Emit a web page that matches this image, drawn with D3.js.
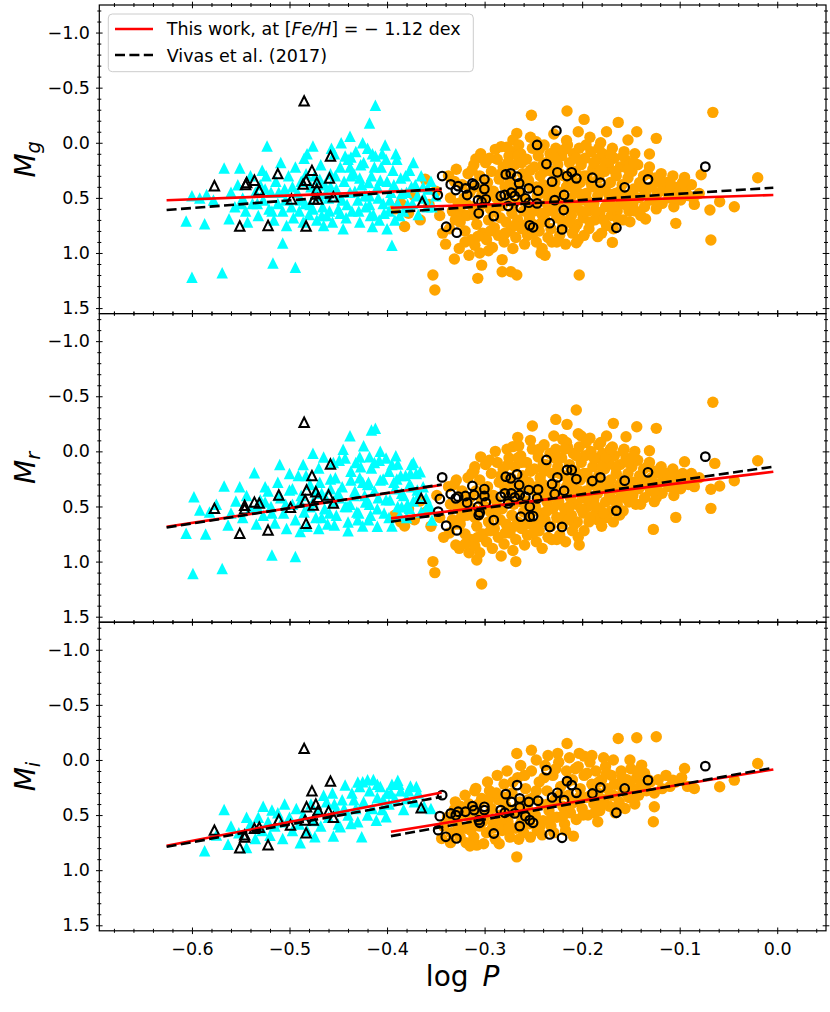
<!DOCTYPE html>
<html>
<head>
<meta charset="utf-8">
<title>RR Lyrae PL relations in g, r, i</title>
<script src="https://cdn.jsdelivr.net/npm/d3@7"></script>
<style>
  body { margin: 0; background: #fff; }
  text { font-family: "DejaVu Sans", sans-serif; }
</style>
</head>
<body>
<script>
// ---- axis ticks ----
var xMajor = [-0.6, -0.5, -0.4, -0.3, -0.2, -0.1, 0.0];
var xMinor = [-0.68, -0.66, -0.64, -0.62, -0.58, -0.56, -0.54, -0.52, -0.48, -0.46, -0.44, -0.42,
              -0.38, -0.36, -0.34, -0.32, -0.28, -0.26, -0.24, -0.22, -0.18, -0.16, -0.14, -0.12,
              -0.08, -0.06, -0.04, -0.02, 0.02, 0.04];
var yMajor = [-1.0, -0.5, 0.0, 0.5, 1.0, 1.5];
var yMinor = [-1.2, -1.1, -0.9, -0.8, -0.7, -0.6, -0.4, -0.3, -0.2, -0.1, 0.1, 0.2, 0.3, 0.4,
              0.6, 0.7, 0.8, 0.9, 1.1, 1.2, 1.3, 1.4];
var xDomain = [-0.695, 0.05];
var yDomain = [-1.25, 1.55];
var bands = ["g", "r", "i"];

// ---- fitted relations: end points in log P and magnitudes per band (g, r, i) ----
var fitRangeRRc = [-0.626, -0.344];
var fitRangeRRab = [-0.396, -0.004];
var thisWorkRRc = [[0.522, 0.425], [0.684, 0.305], [0.779, 0.295]];
var vivasRRc = [[0.610, 0.415], [0.690, 0.300], [0.788, 0.334]];
var thisWorkRRab = [[0.590, 0.474], [0.608, 0.185], [0.652, 0.086]];
var vivasRRab = [[0.631, 0.408], [0.638, 0.139], [0.691, 0.071]];

// ---- RRc stars (cyan triangles): [log P, M] ----
var rrcG = [[-0.600,1.22],[-0.569,1.18],[-0.517,1.09],[-0.494,1.13],[-0.507,0.91],[-0.606,0.71],[-0.587,0.735],
  [-0.562,0.69],[-0.543,0.72],[-0.600,0.48],[-0.592,0.50],[-0.585,0.47],[-0.578,0.52],[-0.567,0.23],[-0.551,0.23],
  [-0.528,0.25],[-0.523,0.03],[-0.476,0.03],[-0.485,0.14],[-0.438,-0.06],[-0.418,-0.18],[-0.412,-0.34],[-0.395,0.93],
  [-0.400,0.78],[-0.390,0.15],[-0.560,0.45],[-0.556,0.58],[-0.553,0.38],[-0.548,0.50],[-0.545,0.62],[-0.540,0.30],
  [-0.538,0.55],[-0.535,0.45],[-0.532,0.66],[-0.530,0.38],[-0.527,0.52],[-0.524,0.30],[-0.521,0.60],[-0.519,0.45],
  [-0.516,0.70],[-0.514,0.35],[-0.512,0.55],[-0.509,0.18],[-0.507,0.62],[-0.505,0.42],[-0.503,0.75],[-0.501,0.30],
  [-0.498,0.58],[-0.496,0.68],[-0.494,0.22],[-0.492,0.45],[-0.490,0.62],[-0.488,0.35],[-0.486,0.72],[-0.484,0.55],
  [-0.482,0.10],[-0.480,0.65],[-0.478,0.40],[-0.476,0.60],[-0.474,0.30],[-0.472,0.70],[-0.470,0.48],[-0.468,0.20],
  [-0.466,0.58],[-0.464,0.38],[-0.462,0.66],[-0.460,0.50],[-0.458,0.28],[-0.456,0.72],[-0.454,0.10],[-0.452,0.42],
  [-0.450,0.60],[-0.448,0.22],[-0.446,0.52],[-0.444,0.35],[-0.442,0.68],[-0.440,0.15],[-0.438,0.45],[-0.436,0.62],
  [-0.434,0.28],[-0.432,0.08],[-0.430,0.52],[-0.428,0.72],[-0.426,0.38],[-0.424,0.18],[-0.422,0.58],[-0.420,0.05],
  [-0.418,0.48],[-0.416,0.30],[-0.414,0.65],[-0.412,0.12],[-0.410,0.40],[-0.408,0.70],[-0.406,0.22],[-0.404,0.55],
  [-0.402,0.02],[-0.400,0.35],[-0.398,0.62],[-0.396,0.45],[-0.394,0.25],[-0.392,0.70],[-0.389,0.55],[-0.386,0.32],
  [-0.383,0.62],[-0.380,0.45],[-0.377,0.25],[-0.374,0.55],[-0.371,0.38],[-0.368,0.65],[-0.365,0.30],[-0.362,0.50],
  [-0.358,0.42],[-0.354,0.58],[-0.350,0.48],[-0.457,0.05],[-0.447,0.00],[-0.437,0.13],[-0.425,0.00],[-0.415,0.10],
  [-0.405,0.10],[-0.445,0.78],[-0.415,0.76],[-0.465,0.75],
  [-0.469,0.33],[-0.463,0.46],[-0.459,0.62],[-0.453,0.30],[-0.449,0.48],[-0.443,0.12],[-0.441,0.56],[-0.437,0.30],
  [-0.433,0.44],[-0.429,0.62],[-0.427,0.20],[-0.423,0.48],[-0.419,0.36],[-0.417,0.66],[-0.413,0.22],[-0.409,0.50],
  [-0.407,0.34],[-0.403,0.64],[-0.401,0.15],[-0.397,0.52],[-0.393,0.38],[-0.391,0.10],[-0.387,0.66],[-0.385,0.46],
  [-0.381,0.30],[-0.379,0.56],[-0.375,0.40],[-0.373,0.18],[-0.369,0.48],[-0.363,0.40],[-0.359,0.58],[-0.355,0.35],
  [-0.489,0.52],[-0.483,0.28],[-0.479,0.56],[-0.473,0.44],[-0.467,0.66],[-0.497,0.40],[-0.504,0.52],[-0.511,0.45],
  [-0.518,0.62],[-0.525,0.42],[-0.533,0.55],[-0.550,0.55],[-0.428,0.32],[-0.418,0.56],[-0.438,0.22],[-0.448,0.64],
  [-0.458,0.40]];
var rrcR = [[-0.599,1.107],[-0.569,1.062],[-0.518,0.94],[-0.494,0.955],[-0.606,0.744],[-0.586,0.75],[-0.563,0.668],
  [-0.598,0.411],[-0.592,0.532],[-0.567,0.314],[-0.551,0.32],[-0.536,0.193],[-0.525,0.32],[-0.476,0.018],[-0.438,-0.142],
  [-0.416,-0.194],[-0.412,-0.209],[-0.389,0.115],[-0.376,0.199],[-0.366,0.184],[-0.395,0.678],[-0.425,0.678],[-0.454,0.668],
  [-0.489,0.728],[-0.385,0.502],[-0.377,0.517],[-0.354,0.623],[-0.418,0.048],[-0.582,0.55],[-0.575,0.48],[-0.560,0.56],
  [-0.555,0.45],[-0.548,0.60],[-0.544,0.40],[-0.540,0.52],[-0.534,0.66],[-0.530,0.44],[-0.527,0.58],[-0.522,0.36],
  [-0.519,0.50],[-0.515,0.65],[-0.512,0.28],[-0.509,0.42],[-0.506,0.56],[-0.503,0.70],[-0.500,0.35],[-0.497,0.48],
  [-0.494,0.62],[-0.491,0.22],[-0.488,0.40],[-0.485,0.55],[-0.482,0.68],[-0.479,0.30],[-0.476,0.46],[-0.473,0.60],
  [-0.470,0.15],[-0.467,0.38],[-0.464,0.52],[-0.461,0.66],[-0.458,0.25],[-0.455,0.45],[-0.452,0.58],[-0.449,0.08],
  [-0.446,0.32],[-0.443,0.50],[-0.440,0.64],[-0.437,0.18],[-0.434,0.40],[-0.431,0.55],[-0.428,0.05],[-0.425,0.28],
  [-0.422,0.46],[-0.419,0.62],[-0.416,0.15],[-0.413,0.36],[-0.410,0.52],[-0.407,0.00],[-0.404,0.25],[-0.401,0.44],
  [-0.398,0.60],[-0.395,0.12],[-0.392,0.34],[-0.389,0.50],[-0.386,0.22],[-0.383,0.40],[-0.380,0.60],[-0.377,0.30],
  [-0.373,0.45],[-0.369,0.35],[-0.365,0.55],[-0.360,0.42],[-0.356,0.50],[-0.465,0.05],[-0.455,0.10],[-0.445,-0.02],
  [-0.432,0.10],[-0.424,-0.05],[-0.408,0.08],[-0.398,0.18],[-0.470,0.70],[-0.440,0.72],[-0.410,0.68],[-0.510,0.12],
  [-0.500,0.20],[-0.486,0.12],[-0.430,0.62],[-0.420,0.30],[-0.450,0.38],[-0.480,0.50],[-0.390,0.25],[-0.375,0.12],
  [-0.370,0.20],
  [-0.469,0.28],[-0.463,0.42],[-0.459,0.56],[-0.453,0.24],[-0.449,0.42],[-0.443,0.06],[-0.441,0.50],[-0.437,0.26],
  [-0.433,0.36],[-0.429,0.56],[-0.427,0.14],[-0.423,0.40],[-0.419,0.28],[-0.417,0.58],[-0.413,0.10],[-0.409,0.42],
  [-0.407,0.26],[-0.403,0.56],[-0.401,0.06],[-0.397,0.44],[-0.393,0.28],[-0.391,0.04],[-0.387,0.58],[-0.385,0.38],
  [-0.381,0.22],[-0.379,0.48],[-0.375,0.32],[-0.373,0.10],[-0.369,0.42],[-0.363,0.32],[-0.359,0.50],[-0.489,0.46],
  [-0.483,0.22],[-0.479,0.50],[-0.473,0.36],[-0.467,0.60],[-0.497,0.34],[-0.504,0.48],[-0.511,0.40],[-0.518,0.56],
  [-0.525,0.46],[-0.533,0.50],[-0.428,0.24],[-0.418,0.48],[-0.438,0.48],[-0.458,0.34]];
var rrcI = [[-0.587,0.824],[-0.567,0.449],[-0.563,0.764],[-0.544,0.52],[-0.544,0.794],[-0.527,0.419],[-0.518,0.455],
  [-0.505,0.40],[-0.489,0.75],[-0.474,0.697],[-0.455,0.69],[-0.426,0.697],[-0.465,0.32],[-0.443,0.228],[-0.425,0.198],
  [-0.414,0.177],[-0.389,0.183],[-0.376,0.237],[-0.355,0.44],[-0.401,0.516],[-0.535,0.712],[-0.520,0.682],[-0.507,0.712],
  [-0.437,0.576],[-0.448,0.606],[-0.411,0.546],[-0.575,0.68],[-0.560,0.60],[-0.552,0.66],[-0.540,0.58],[-0.532,0.52],
  [-0.528,0.64],[-0.522,0.56],[-0.515,0.60],[-0.512,0.48],[-0.508,0.56],[-0.500,0.52],[-0.497,0.64],[-0.493,0.44],
  [-0.490,0.58],[-0.486,0.50],[-0.482,0.64],[-0.478,0.40],[-0.476,0.55],[-0.470,0.46],[-0.468,0.60],[-0.462,0.38],
  [-0.460,0.52],[-0.456,0.30],[-0.452,0.45],[-0.450,0.58],[-0.446,0.36],[-0.440,0.50],[-0.436,0.30],[-0.432,0.44],
  [-0.430,0.56],[-0.428,0.24],[-0.424,0.38],[-0.420,0.50],[-0.418,0.28],[-0.415,0.44],[-0.410,0.34],[-0.407,0.24],
  [-0.405,0.45],[-0.400,0.30],[-0.398,0.40],[-0.395,0.22],[-0.392,0.35],[-0.386,0.28],[-0.383,0.45],[-0.380,0.35],
  [-0.372,0.38],[-0.368,0.30],[-0.362,0.42],[-0.430,0.20],[-0.420,0.18],
  [-0.410,0.22],[-0.404,0.36],[-0.396,0.30],[-0.388,0.22],[-0.378,0.28],[-0.370,0.24],[-0.434,0.36],[-0.444,0.44],
  [-0.454,0.40]];

// ---- RRab stars (orange circles): [log P, M] ----
var rrabG = [[-0.382,0.76],[-0.353,1.20],[-0.351,1.336],[-0.331,1.055],[-0.309,0.147],[-0.307,1.23],[-0.303,1.11],
  [-0.296,0.98],[-0.282,1.06],[-0.282,1.17],[-0.273,1.17],[-0.267,1.20],[-0.252,-0.25],[-0.247,-0.01],[-0.267,-0.085],
  [-0.271,-0.025],[-0.283,0.035],[-0.271,0.08],[-0.242,1.00],[-0.238,1.02],[-0.2155,-0.288],[-0.198,-0.212],[-0.203,1.20],
  [-0.175,-0.10],[-0.163,-0.185],[-0.144,-0.10],[-0.153,-0.025],[-0.124,-0.04],[-0.131,0.102],[-0.095,0.314],[-0.078,0.29],
  [-0.066,-0.276],[-0.020,0.317],[-0.044,0.58],[-0.059,0.535],[-0.069,0.61],[-0.068,0.882],[-0.085,0.559],[-0.104,0.731],
  [-0.135,0.692],[-0.151,0.716],[-0.169,0.904],[-0.184,0.852],[-0.206,0.907],
  [-0.392,0.60],[-0.386,0.55],[-0.378,0.64],[-0.372,0.48],[-0.366,0.70],[-0.361,0.33],[-0.357,0.56],[-0.350,0.44],
  [-0.346,0.66],[-0.343,0.82],[-0.340,0.92],[-0.337,0.30],[-0.335,0.50],[-0.333,0.62],[-0.336,0.78],[-0.329,0.24],
  [-0.327,0.55],[-0.330,0.70],[-0.326,0.96],[-0.323,0.38],[-0.321,0.50],[-0.320,0.80],[-0.324,0.64],[-0.317,0.28],
  [-0.315,0.45],[-0.318,0.66],[-0.314,0.88],[-0.316,1.02],[-0.311,0.20],[-0.309,0.40],[-0.312,0.58],[-0.308,0.74],
  [-0.310,0.93],[-0.305,0.30],[-0.303,0.48],[-0.306,0.62],[-0.302,0.82],[-0.304,0.10],[-0.299,0.18],[-0.297,0.36],
  [-0.300,0.55],[-0.296,0.70],[-0.298,0.88],[-0.293,0.26],[-0.291,0.44],[-0.294,0.60],[-0.290,0.77],[-0.292,0.95],
  [-0.289,0.06],[-0.287,0.15],[-0.285,0.33],[-0.288,0.50],[-0.284,0.68],[-0.286,0.84],[-0.281,0.22],[-0.279,0.40],
  [-0.282,0.57],[-0.278,0.72],[-0.280,0.90],[-0.277,0.04],[-0.275,0.12],[-0.273,0.30],[-0.276,0.48],[-0.272,0.64],
  [-0.274,0.80],[-0.271,0.96],[-0.269,0.20],[-0.267,0.38],[-0.270,0.55],[-0.266,0.70],[-0.268,0.86],[-0.265,0.02],
  [-0.263,0.10],[-0.261,0.28],[-0.264,0.45],[-0.260,0.62],[-0.262,0.78],[-0.259,0.92],[-0.257,0.15],[-0.255,0.34],
  [-0.258,0.52],[-0.254,0.68],[-0.256,0.84],[-0.253,-0.05],[-0.251,0.05],[-0.249,0.22],[-0.252,0.40],[-0.248,0.58],
  [-0.250,0.74],[-0.247,0.90],[-0.245,0.12],[-0.243,0.30],[-0.246,0.48],[-0.242,0.64],[-0.244,0.80],[-0.241,0.96],
  [-0.239,0.02],[-0.237,0.18],[-0.240,0.38],[-0.236,0.55],[-0.238,0.70],[-0.235,0.86],[-0.233,0.10],[-0.231,0.26],
  [-0.234,0.44],[-0.230,0.62],[-0.232,0.78],[-0.229,-0.08],[-0.227,0.05],[-0.225,0.20],[-0.228,0.36],[-0.224,0.52],
  [-0.226,0.68],[-0.223,0.84],[-0.221,0.12],[-0.219,0.30],[-0.222,0.46],[-0.218,0.60],[-0.220,0.76],[-0.217,0.92],
  [-0.216,-0.02],[-0.215,0.02],[-0.213,0.18],[-0.214,0.34],[-0.212,0.50],[-0.211,0.66],[-0.210,0.82],[-0.209,0.10],
  [-0.207,0.26],[-0.208,0.42],[-0.206,0.58],[-0.205,0.74],[-0.204,-0.10],[-0.203,0.05],[-0.201,0.20],[-0.202,0.36],
  [-0.200,0.52],[-0.199,0.68],[-0.198,0.84],[-0.197,0.14],[-0.195,0.30],[-0.196,0.46],[-0.194,0.62],[-0.193,0.78],
  [-0.192,-0.05],[-0.191,0.08],[-0.189,0.24],[-0.190,0.40],[-0.188,0.55],[-0.187,0.70],[-0.185,0.15],[-0.183,0.32],
  [-0.184,0.48],[-0.182,0.64],[-0.181,0.00],[-0.179,0.10],[-0.177,0.26],[-0.178,0.42],[-0.176,0.58],[-0.175,0.75],
  [-0.173,0.20],[-0.171,0.36],[-0.172,0.52],[-0.170,0.66],[-0.169,0.05],[-0.167,0.14],[-0.165,0.30],[-0.166,0.46],
  [-0.164,0.62],[-0.161,0.22],[-0.159,0.38],[-0.160,0.54],[-0.158,0.70],[-0.157,0.08],[-0.155,0.16],[-0.153,0.32],
  [-0.154,0.48],[-0.152,0.62],[-0.149,0.26],[-0.147,0.42],[-0.148,0.56],[-0.146,0.10],[-0.143,0.20],[-0.141,0.36],
  [-0.142,0.50],[-0.140,0.66],[-0.137,0.30],[-0.135,0.45],[-0.136,0.58],[-0.131,0.22],[-0.129,0.40],[-0.130,0.52],
  [-0.125,0.32],[-0.123,0.46],[-0.124,0.60],[-0.119,0.28],[-0.117,0.42],[-0.118,0.55],[-0.113,0.36],[-0.111,0.50],
  [-0.107,0.30],[-0.105,0.45],[-0.106,0.58],[-0.101,0.40],[-0.099,0.52],[-0.094,0.44],[-0.088,0.38],[-0.086,0.50],
  [-0.080,0.46],
  [-0.331,0.35],[-0.325,0.72],[-0.319,0.55],[-0.313,0.25],[-0.307,0.85],[-0.301,0.42],[-0.295,0.14],[-0.294,0.80],
  [-0.289,0.62],[-0.283,0.28],[-0.279,0.82],[-0.276,0.18],[-0.272,0.44],[-0.269,0.75],[-0.266,0.12],[-0.262,0.52],
  [-0.259,0.35],[-0.257,0.74],[-0.253,0.25],[-0.250,0.62],[-0.247,0.40],[-0.244,0.06],[-0.241,0.72],[-0.239,0.26],
  [-0.236,0.62],[-0.233,0.50],[-0.231,0.90],[-0.228,0.14],[-0.226,0.44],[-0.223,0.28],[-0.221,0.70],[-0.218,0.06],
  [-0.216,0.40],[-0.213,0.58],[-0.211,0.26],[-0.208,0.78],[-0.206,0.14],[-0.203,0.46],[-0.201,0.62],[-0.198,0.30],
  [-0.196,0.02],[-0.193,0.55],[-0.191,0.36],[-0.188,0.18],[-0.186,0.62],[-0.183,0.05],[-0.181,0.42],[-0.178,0.70],
  [-0.176,0.18],[-0.173,0.46],[-0.171,0.10],[-0.168,0.58],[-0.166,0.26],[-0.163,0.70],[-0.161,0.44],[-0.158,0.12],
  [-0.156,0.56],[-0.153,0.24],[-0.150,0.50],[-0.147,0.18],[-0.145,0.62],[-0.139,0.40],[-0.133,0.28],[-0.127,0.52],
  [-0.121,0.36],[-0.115,0.44],[-0.109,0.38],[-0.103,0.50],[-0.097,0.36],[-0.091,0.48],[-0.310,0.66],[-0.298,0.46],
  [-0.286,0.58],[-0.274,0.36],[-0.262,0.18],[-0.250,0.82],[-0.238,0.46],[-0.226,0.90],[-0.214,0.72],[-0.204,0.88],
  [-0.192,0.72],[-0.180,0.82],[-0.168,0.78],[-0.320,0.90],[-0.305,1.00],[-0.290,0.62],[-0.270,0.40],[-0.255,0.60],
  [-0.240,0.20],[-0.225,0.56],[-0.210,0.34],[-0.195,0.52],[-0.180,0.24]];
var rrabR = [[-0.382,0.677],[-0.353,1.00],[-0.351,1.10],[-0.3295,0.85],[-0.303,1.203],[-0.308,0.986],[-0.283,0.95],
  [-0.268,1.00],[-0.203,0.85],[-0.310,0.139],[-0.206,-0.375],[-0.227,-0.29],[-0.251,-0.23],[-0.2155,-0.245],[-0.266,-0.127],
  [-0.271,-0.043],[-0.220,-0.109],[-0.201,-0.14],[-0.175,-0.14],[-0.168,-0.254],[-0.144,-0.224],[-0.124,-0.209],
  [-0.155,-0.133],[-0.131,-0.006],[-0.066,-0.445],[-0.095,0.094],[-0.064,0.109],[-0.020,0.085],[-0.044,0.266],
  [-0.059,0.314],[-0.085,0.32],[-0.068,0.344],[-0.068,0.517],[-0.104,0.599],[-0.127,0.708],[-0.126,0.456],
  [-0.184,0.623],[-0.1615,0.578],
  [-0.392,0.58],[-0.386,0.64],[-0.378,0.52],[-0.372,0.62],[-0.366,0.45],[-0.360,0.55],[-0.355,0.68],[-0.349,0.40],
  [-0.346,0.60],[-0.342,0.78],[-0.337,0.32],[-0.335,0.48],[-0.333,0.62],[-0.336,0.74],[-0.329,0.26],[-0.327,0.52],
  [-0.330,0.66],[-0.326,0.88],[-0.323,0.36],[-0.321,0.46],[-0.320,0.75],[-0.324,0.60],[-0.317,0.24],[-0.315,0.42],
  [-0.318,0.58],[-0.314,0.80],[-0.316,0.92],[-0.311,0.18],[-0.309,0.36],[-0.312,0.52],[-0.308,0.68],[-0.310,0.86],
  [-0.305,0.26],[-0.303,0.44],[-0.306,0.58],[-0.302,0.75],[-0.304,0.05],[-0.299,0.12],[-0.297,0.32],[-0.300,0.50],
  [-0.296,0.64],[-0.298,0.82],[-0.293,0.20],[-0.291,0.40],[-0.294,0.55],[-0.290,0.70],[-0.292,0.88],[-0.289,0.00],
  [-0.287,0.10],[-0.285,0.28],[-0.288,0.45],[-0.284,0.62],[-0.286,0.78],[-0.281,0.16],[-0.279,0.34],[-0.282,0.52],
  [-0.278,0.66],[-0.280,0.84],[-0.277,-0.02],[-0.275,0.06],[-0.273,0.24],[-0.276,0.42],[-0.272,0.58],[-0.274,0.74],
  [-0.271,0.90],[-0.269,0.14],[-0.267,0.32],[-0.270,0.48],[-0.266,0.64],[-0.268,0.80],[-0.265,-0.05],[-0.263,0.04],
  [-0.261,0.22],[-0.264,0.38],[-0.260,0.55],[-0.262,0.70],[-0.259,0.85],[-0.257,0.10],[-0.255,0.28],[-0.258,0.45],
  [-0.254,0.60],[-0.256,0.76],[-0.253,-0.10],[-0.251,-0.02],[-0.249,0.16],[-0.252,0.34],[-0.248,0.50],[-0.250,0.66],
  [-0.247,0.82],[-0.245,0.05],[-0.243,0.24],[-0.246,0.40],[-0.242,0.56],[-0.244,0.72],[-0.241,0.88],[-0.239,-0.06],
  [-0.237,0.12],[-0.240,0.30],[-0.236,0.46],[-0.238,0.62],[-0.235,0.78],[-0.233,0.02],[-0.231,0.20],[-0.234,0.36],
  [-0.230,0.52],[-0.232,0.68],[-0.229,-0.14],[-0.227,-0.02],[-0.225,0.14],[-0.228,0.30],[-0.224,0.46],[-0.226,0.60],
  [-0.223,0.76],[-0.221,0.06],[-0.219,0.22],[-0.222,0.38],[-0.218,0.52],[-0.220,0.66],[-0.217,0.82],[-0.216,-0.08],
  [-0.215,-0.04],[-0.213,0.12],[-0.214,0.28],[-0.212,0.42],[-0.211,0.58],[-0.210,0.72],[-0.209,0.02],[-0.207,0.18],
  [-0.208,0.34],[-0.206,0.48],[-0.205,0.64],[-0.204,-0.16],[-0.203,-0.04],[-0.201,0.10],[-0.202,0.26],[-0.200,0.42],
  [-0.199,0.56],[-0.198,0.72],[-0.197,0.04],[-0.195,0.20],[-0.196,0.36],[-0.194,0.50],[-0.193,0.64],[-0.192,-0.12],
  [-0.191,0.00],[-0.189,0.14],[-0.190,0.30],[-0.188,0.44],[-0.187,0.58],[-0.185,0.06],[-0.183,0.22],[-0.184,0.38],
  [-0.182,0.52],[-0.181,-0.08],[-0.179,0.02],[-0.177,0.16],[-0.178,0.32],[-0.176,0.46],[-0.175,0.60],[-0.173,0.10],
  [-0.171,0.26],[-0.172,0.40],[-0.170,0.54],[-0.169,-0.04],[-0.167,0.04],[-0.165,0.20],[-0.166,0.34],[-0.164,0.48],
  [-0.161,0.12],[-0.159,0.26],[-0.160,0.40],[-0.158,0.54],[-0.157,-0.02],[-0.155,0.06],[-0.153,0.20],[-0.154,0.34],
  [-0.152,0.46],[-0.149,0.14],[-0.147,0.28],[-0.148,0.40],[-0.146,0.00],[-0.143,0.08],[-0.141,0.22],[-0.142,0.34],
  [-0.140,0.48],[-0.137,0.16],[-0.135,0.30],[-0.136,0.42],[-0.131,0.10],[-0.129,0.24],[-0.130,0.36],[-0.125,0.18],
  [-0.123,0.30],[-0.124,0.42],[-0.119,0.14],[-0.117,0.26],[-0.118,0.38],[-0.113,0.20],[-0.111,0.32],[-0.107,0.16],
  [-0.105,0.28],[-0.106,0.40],[-0.101,0.22],[-0.099,0.34],[-0.094,0.26],[-0.088,0.20],[-0.086,0.30],[-0.080,0.24],
  [-0.331,0.30],[-0.325,0.66],[-0.319,0.50],[-0.313,0.20],[-0.307,0.78],[-0.301,0.38],[-0.295,0.08],[-0.294,0.72],
  [-0.289,0.56],[-0.283,0.22],[-0.279,0.74],[-0.276,0.12],[-0.272,0.38],[-0.269,0.68],[-0.266,0.06],[-0.262,0.46],
  [-0.259,0.30],[-0.257,0.66],[-0.253,0.18],[-0.250,0.54],[-0.247,0.32],[-0.244,-0.02],[-0.241,0.64],[-0.239,0.18],
  [-0.236,0.54],[-0.233,0.42],[-0.231,0.80],[-0.228,0.06],[-0.226,0.36],[-0.223,0.20],[-0.221,0.60],[-0.218,-0.02],
  [-0.216,0.32],[-0.213,0.50],[-0.211,0.16],[-0.208,0.66],[-0.206,0.04],[-0.203,0.36],[-0.201,0.52],[-0.198,0.20],
  [-0.196,-0.08],[-0.193,0.44],[-0.191,0.26],[-0.188,0.06],[-0.186,0.50],[-0.183,-0.06],[-0.181,0.30],[-0.178,0.56],
  [-0.176,0.06],[-0.173,0.34],[-0.171,-0.02],[-0.168,0.44],[-0.166,0.14],[-0.163,0.56],[-0.161,0.30],[-0.158,0.00],
  [-0.156,0.42],[-0.153,0.10],[-0.150,0.36],[-0.147,0.04],[-0.145,0.48],[-0.139,0.26],[-0.133,0.14],[-0.127,0.36],
  [-0.121,0.20],[-0.115,0.28],[-0.109,0.22],[-0.103,0.34],[-0.097,0.20],[-0.091,0.30],[-0.310,0.60],[-0.298,0.40],
  [-0.286,0.52],[-0.274,0.30],[-0.262,0.10],[-0.250,0.74],[-0.238,0.38],[-0.226,0.80],[-0.214,0.62],[-0.204,0.78],
  [-0.192,0.60],[-0.180,0.68],[-0.168,0.64],[-0.320,0.84],[-0.305,0.92],[-0.290,0.56],[-0.270,0.34],[-0.255,0.52],
  [-0.240,0.12],[-0.225,0.48],[-0.210,0.26],[-0.195,0.42],[-0.180,0.14]];
var rrabI = [[-0.309,0.258],[-0.267,0.879],[-0.252,-0.089],[-0.267,-0.059],[-0.2155,-0.15],[-0.198,-0.035],
  [-0.163,-0.195],[-0.144,-0.201],[-0.124,-0.21],[-0.168,0.0],[-0.151,0.0],[-0.139,0.047],[-0.095,0.077],[-0.020,0.032],
  [-0.044,0.183],[-0.059,0.243],[-0.085,0.259],[-0.126,0.425],[-0.127,0.561],[-0.209,0.691],[-0.308,0.773],[-0.319,0.751],
  [-0.344,0.712],[-0.184,0.561],[-0.107,0.183],
  [-0.342,0.60],[-0.338,0.52],[-0.334,0.66],[-0.331,0.45],[-0.328,0.58],[-0.325,0.70],[-0.322,0.50],[-0.319,0.62],
  [-0.316,0.40],[-0.313,0.55],[-0.311,0.70],[-0.308,0.46],[-0.305,0.60],[-0.303,0.35],[-0.300,0.52],[-0.298,0.66],
  [-0.295,0.28],[-0.293,0.44],[-0.291,0.58],[-0.289,0.72],[-0.286,0.36],[-0.284,0.50],[-0.282,0.64],[-0.280,0.22],
  [-0.278,0.42],[-0.276,0.56],[-0.274,0.70],[-0.272,0.30],[-0.270,0.48],[-0.268,0.62],[-0.266,0.16],[-0.264,0.38],
  [-0.262,0.52],[-0.260,0.66],[-0.258,0.26],[-0.256,0.44],[-0.254,0.58],[-0.252,0.10],[-0.250,0.34],[-0.248,0.50],
  [-0.246,0.64],[-0.244,0.20],[-0.242,0.40],[-0.240,0.55],[-0.238,0.05],[-0.236,0.28],[-0.234,0.46],[-0.232,0.60],
  [-0.230,0.14],[-0.228,0.36],[-0.226,0.52],[-0.224,0.02],[-0.222,0.24],[-0.220,0.42],[-0.218,0.58],[-0.216,0.10],
  [-0.214,0.32],[-0.212,0.48],[-0.210,0.18],[-0.208,0.38],[-0.206,0.54],[-0.204,0.06],[-0.202,0.26],[-0.200,0.44],
  [-0.198,0.14],[-0.196,0.34],[-0.194,0.50],[-0.192,0.02],[-0.190,0.22],[-0.188,0.40],[-0.186,0.10],[-0.184,0.30],
  [-0.182,0.46],[-0.180,0.18],[-0.178,0.36],[-0.176,0.06],[-0.174,0.26],[-0.172,0.42],[-0.170,0.14],[-0.168,0.32],
  [-0.166,0.48],[-0.164,0.22],[-0.162,0.38],[-0.160,0.10],[-0.158,0.28],[-0.156,0.44],[-0.154,0.18],[-0.152,0.34],
  [-0.150,0.08],[-0.148,0.26],[-0.146,0.40],[-0.144,0.16],[-0.142,0.32],[-0.140,0.22],[-0.136,0.12],[-0.134,0.28],
  [-0.130,0.20],[-0.126,0.30],[-0.122,0.18],[-0.118,0.26],[-0.114,0.14],[-0.110,0.24],[-0.104,0.20],[-0.098,0.16],
  [-0.092,0.24],[-0.330,0.38],[-0.320,0.32],[-0.310,0.28],[-0.297,0.20],[-0.287,0.14],[-0.277,0.10],[-0.263,0.05],
  [-0.247,0.00],[-0.235,-0.04],[-0.225,-0.06],[-0.213,-0.02],[-0.203,-0.06],[-0.190,-0.04],[-0.178,-0.02],[-0.265,0.72],
  [-0.253,0.70],[-0.241,0.68],[-0.229,0.66],[-0.217,0.64],[-0.301,0.76],[-0.285,0.76],[-0.325,0.42],[-0.315,0.78],
  [-0.335,0.75],
  [-0.331,0.55],[-0.326,0.62],[-0.318,0.48],[-0.314,0.64],[-0.306,0.40],[-0.302,0.56],[-0.296,0.36],[-0.292,0.62],
  [-0.288,0.30],[-0.283,0.56],[-0.279,0.34],[-0.275,0.62],[-0.271,0.20],[-0.267,0.44],[-0.263,0.58],[-0.259,0.14],
  [-0.255,0.36],[-0.251,0.52],[-0.247,0.28],[-0.243,0.60],[-0.239,0.16],[-0.235,0.40],[-0.231,0.52],[-0.227,0.08],
  [-0.223,0.32],[-0.219,0.50],[-0.215,0.20],[-0.211,0.40],[-0.207,0.08],[-0.203,0.34],[-0.199,0.50],[-0.195,0.12],
  [-0.191,0.32],[-0.187,0.48],[-0.183,0.20],[-0.179,0.40],[-0.175,0.12],[-0.171,0.32],[-0.167,0.22],[-0.163,0.42],
  [-0.159,0.16],[-0.155,0.30],[-0.151,0.20],[-0.147,0.34],[-0.143,0.10],[-0.138,0.28],[-0.132,0.18]];

// ---- black-edged subsample: RRc (open triangles) ----
var openRRcG = [[-0.577,0.39],[-0.545,0.38],[-0.544,0.36],[-0.536,0.34],[-0.531,0.43],[-0.551,0.755],[-0.522,0.75],
  [-0.512,0.28],[-0.498,0.51],[-0.486,0.375],[-0.483,0.34],[-0.477,0.25],[-0.472,0.36],[-0.472,0.42],[-0.475,0.51],
  [-0.471,0.51],[-0.483,0.755],[-0.458,0.12],[-0.459,0.32],[-0.455,0.49],[-0.364,0.535],[-0.485,-0.38]];
var openRRcR = [[-0.485,-0.264],[-0.458,0.115],[-0.477,0.22],[-0.577,0.517],[-0.546,0.49],[-0.546,0.52],[-0.536,0.46],
  [-0.531,0.47],[-0.511,0.396],[-0.499,0.508],[-0.551,0.744],[-0.522,0.714],[-0.4825,0.35],[-0.473,0.366],[-0.4706,0.417],
  [-0.484,0.441],[-0.4757,0.487],[-0.483,0.653],[-0.460,0.396],[-0.455,0.47],[-0.365,0.426]];
var openRRcI = [[-0.485,-0.105],[-0.458,0.192],[-0.477,0.28],[-0.577,0.637],[-0.546,0.68],[-0.546,0.70],[-0.536,0.62],
  [-0.531,0.61],[-0.511,0.54],[-0.499,0.59],[-0.551,0.797],[-0.522,0.77],[-0.4825,0.425],[-0.473,0.40],[-0.4706,0.455],
  [-0.484,0.546],[-0.4757,0.546],[-0.483,0.661],[-0.460,0.464],[-0.455,0.521],[-0.365,0.434]];

// ---- black-edged subsample: RRab (open circles) ----
var openRRabG = [[-0.3435,0.302],[-0.348,0.474],[-0.3347,0.378],[-0.3295,0.429],[-0.3271,0.393],[-0.3196,0.414],
  [-0.3179,0.474],[-0.3125,0.368],[-0.3107,0.383],[-0.3002,0.332],[-0.3002,0.42],[-0.3067,0.52],[-0.3032,0.535],
  [-0.2988,0.513],[-0.306,0.64],[-0.2906,0.665],[-0.3394,0.762],[-0.3285,0.816],[-0.2783,0.287],[-0.2732,0.278],
  [-0.2667,0.308],[-0.2646,0.368],[-0.2834,0.483],[-0.2793,0.474],[-0.2725,0.453],[-0.2691,0.483],[-0.264,0.444],
  [-0.2547,0.414],[-0.2452,0.435],[-0.2582,0.504],[-0.2547,0.544],[-0.2759,0.574],[-0.2629,0.589],[-0.2537,0.749],
  [-0.2503,0.767],[-0.2462,0.02],[-0.2366,0.193],[-0.2462,0.55],[-0.2308,0.353],[-0.2264,-0.11],[-0.2254,0.268],
  [-0.2281,0.52],[-0.2185,0.474],[-0.2189,0.61],[-0.2332,0.73],[-0.2206,0.786],[-0.2155,0.302],[-0.2107,0.268],
  [-0.2059,0.323],[-0.1895,0.317],[-0.1813,0.362],[-0.1564,0.404],[-0.1649,0.771],[-0.1325,0.332],[-0.0737,0.217]];
var openRRabR = [[-0.3435,0.236],[-0.3459,0.432],[-0.3476,0.547],[-0.3347,0.387],[-0.3295,0.426],[-0.3271,0.411],
  [-0.3196,0.405],[-0.3179,0.466],[-0.3125,0.314],[-0.3107,0.396],[-0.3002,0.342],[-0.3002,0.405],[-0.2988,0.463],
  [-0.3067,0.502],[-0.305,0.556],[-0.306,0.577],[-0.2906,0.623],[-0.3394,0.674],[-0.3285,0.717],[-0.2783,0.230],
  [-0.2732,0.245],[-0.2667,0.209],[-0.2646,0.305],[-0.2834,0.411],[-0.2793,0.381],[-0.2725,0.381],[-0.2691,0.417],
  [-0.264,0.396],[-0.2547,0.351],[-0.2452,0.345],[-0.2582,0.411],[-0.2537,0.502],[-0.2759,0.472],[-0.2629,0.593],
  [-0.2537,0.593],[-0.2503,0.587],[-0.2366,0.078],[-0.2308,0.296],[-0.2254,0.236],[-0.2281,0.387],[-0.2185,0.357],
  [-0.2332,0.686],[-0.2206,0.686],[-0.2155,0.169],[-0.2107,0.169],[-0.2059,0.251],[-0.1895,0.269],[-0.1813,0.236],
  [-0.1564,0.266],[-0.1649,0.538],[-0.1325,0.190],[-0.0737,0.048],[-0.2462,0.426]];
var openRRabI = [[-0.3435,0.319],[-0.3459,0.510],[-0.3476,0.637],[-0.3398,0.697],[-0.3289,0.712],[-0.3347,0.485],
  [-0.3295,0.501],[-0.3271,0.470],[-0.3196,0.470],[-0.3125,0.419],[-0.3107,0.455],[-0.3002,0.425],[-0.3002,0.455],
  [-0.305,0.570],[-0.306,0.546],[-0.2906,0.667],[-0.2783,0.310],[-0.2725,0.380],[-0.2667,0.228],[-0.264,0.349],
  [-0.2834,0.455],[-0.2793,0.479],[-0.2691,0.485],[-0.264,0.600],[-0.2547,0.380],[-0.2452,0.370],[-0.2582,0.510],
  [-0.2537,0.546],[-0.2503,0.570],[-0.2366,0.092],[-0.2308,0.340],[-0.2254,0.298],[-0.2185,0.364],[-0.2332,0.676],
  [-0.2206,0.706],[-0.2155,0.192],[-0.2107,0.228],[-0.2059,0.298],[-0.1895,0.304],[-0.1813,0.250],[-0.1564,0.259],
  [-0.1649,0.479],[-0.1325,0.183],[-0.0737,0.056],[-0.264,0.431]];

var rrcSets = [rrcG, rrcR, rrcI];
var rrabSets = [rrabG, rrabR, rrabI];
var openRRcSets = [openRRcG, openRRcR, openRRcI];
var openRRabSets = [openRRabG, openRRabR, openRRabI];

// ---- layout ----
var svg_width = 830, svg_height = 1012;
var plot_left = 99.3, plot_right = 826;
var panel_top = 5, panel_h = 308.6;
var tick_font = 17.5;

var svg = d3.select("body").append("svg")
  .attr("width", svg_width)
  .attr("height", svg_height);

var x = d3.scaleLinear().domain(xDomain).range([plot_left, plot_right]);

function triPath(s) {
  var h = s / 2;
  return "M0," + (-h) + "L" + h + "," + h + "L" + (-h) + "," + h + "Z";
}

// ticks pointing both in and out of the frame
function inoutTicks(g, axisFn, scale, values, len, fmt, pad, tx, ty) {
  [len, -len].forEach(function (s, k) {
    var a = axisFn(scale).tickValues(values).tickSize(s).tickSizeOuter(0)
      .tickFormat(k === 0 && fmt ? fmt : function () { return ""; })
      .tickPadding(pad);
    var ax = g.append("g")
      .attr("transform", "translate(" + tx + "," + ty + ")")
      .call(a);
    ax.select(".domain").remove();
    ax.attr("font-size", tick_font).attr("font-family", "DejaVu Sans, sans-serif")
      .attr("color", "#000");
    ax.selectAll("line").attr("stroke-width", 1);
  });
}

var fmt1 = d3.format(".1f");

bands.forEach(function (band, p) {
  var top = panel_top + p * panel_h;
  var y = d3.scaleLinear().domain(yDomain).range([top, top + panel_h]);
  var g = svg.append("g");

  g.append("clipPath").attr("id", "clip" + p)
    .append("rect")
    .attr("x", plot_left).attr("y", top)
    .attr("width", plot_right - plot_left).attr("height", panel_h);

  var marks = g.append("g").attr("clip-path", "url(#clip" + p + ")");

  // RRab
  marks.append("g").selectAll("circle")
    .data(rrabSets[p]).enter().append("circle")
    .attr("cx", function (d) { return x(d[0]); })
    .attr("cy", function (d) { return y(d[1]); })
    .attr("r", 5.7)
    .attr("fill", "#ffa500");

  // RRc
  marks.append("g").selectAll("path")
    .data(rrcSets[p]).enter().append("path")
    .attr("d", triPath(11.5))
    .attr("transform", function (d) { return "translate(" + x(d[0]) + "," + y(d[1]) + ")"; })
    .attr("fill", "#00ffff");

  // open markers
  marks.append("g").selectAll("path")
    .data(openRRcSets[p]).enter().append("path")
    .attr("d", triPath(9.4))
    .attr("transform", function (d) { return "translate(" + x(d[0]) + "," + y(d[1]) + ")"; })
    .attr("fill", "none")
    .attr("stroke", "#000")
    .attr("stroke-width", 2);

  marks.append("g").selectAll("circle")
    .data(openRRabSets[p]).enter().append("circle")
    .attr("cx", function (d) { return x(d[0]); })
    .attr("cy", function (d) { return y(d[1]); })
    .attr("r", 4.3)
    .attr("fill", "none")
    .attr("stroke", "#000")
    .attr("stroke-width", 2.2);

  // relations
  var line = d3.line()
    .x(function (d) { return x(d[0]); })
    .y(function (d) { return y(d[1]); });

  [[fitRangeRRc, thisWorkRRc[p], vivasRRc[p]], [fitRangeRRab, thisWorkRRab[p], vivasRRab[p]]]
    .forEach(function (f) {
      marks.append("path")
        .attr("d", line([[f[0][0], f[1][0]], [f[0][1], f[1][1]]]))
        .attr("stroke", "#ff0000").attr("stroke-width", 2.6).attr("fill", "none");
      marks.append("path")
        .attr("d", line([[f[0][0], f[2][0]], [f[0][1], f[2][1]]]))
        .attr("stroke", "#000").attr("stroke-width", 2.6).attr("fill", "none")
        .attr("stroke-dasharray", "10,4.4");
    });

  // frame and ticks
  g.append("rect")
    .attr("x", plot_left).attr("y", top)
    .attr("width", plot_right - plot_left).attr("height", panel_h)
    .attr("fill", "none").attr("stroke", "#000").attr("stroke-width", 1.2);

  var last = p === bands.length - 1;
  inoutTicks(g, d3.axisBottom, x, xMajor, 3.3, last ? fmt1 : null, 8, 0, top + panel_h);
  inoutTicks(g, d3.axisBottom, x, xMinor, 2, null, 0, 0, top + panel_h);
  inoutTicks(g, d3.axisTop, x, xMajor, 3.3, null, 0, 0, top);
  inoutTicks(g, d3.axisTop, x, xMinor, 2, null, 0, 0, top);
  inoutTicks(g, d3.axisLeft, y, yMajor, 3.3, fmt1, 6, plot_left, 0);
  inoutTicks(g, d3.axisLeft, y, yMinor, 2, null, 0, plot_left, 0);
  inoutTicks(g, d3.axisRight, y, yMajor, 3.3, null, 0, plot_right, 0);
  inoutTicks(g, d3.axisRight, y, yMinor, 2, null, 0, plot_right, 0);

  // y label  M_band
  var lab = svg.append("text")
    .attr("transform", "translate(35," + (top + panel_h / 2) + ") rotate(-90)")
    .attr("text-anchor", "middle")
    .attr("font-size", 28);
  lab.append("tspan").attr("font-style", "italic").text("M");
  lab.append("tspan").attr("font-style", "italic").attr("font-size", 19.5)
    .attr("dy", 5).text(band);
});

// x label
var xl = svg.append("text")
  .attr("x", (plot_left + plot_right) / 2)
  .attr("y", 985.7)
  .attr("text-anchor", "middle")
  .attr("font-size", 28);
xl.append("tspan").text("log");
xl.append("tspan").attr("dx", 14).attr("font-style", "italic").text("P");

// legend
var leg = svg.append("g");
leg.append("rect")
  .attr("x", 108.3).attr("y", 14).attr("width", 365).attr("height", 57.7)
  .attr("rx", 4).attr("fill", "#fff").attr("fill-opacity", 0.8)
  .attr("stroke", "#cccccc").attr("stroke-width", 1);
leg.append("line").attr("x1", 115).attr("x2", 153).attr("y1", 29).attr("y2", 29)
  .attr("stroke", "#ff0000").attr("stroke-width", 2.6);
leg.append("line").attr("x1", 115).attr("x2", 153).attr("y1", 55).attr("y2", 55)
  .attr("stroke", "#000").attr("stroke-width", 2.6).attr("stroke-dasharray", "10,4.4");
var t1 = leg.append("text").attr("x", 166.7).attr("y", 35).attr("font-size", tick_font);
t1.append("tspan").text("This work, at [");
t1.append("tspan").attr("font-style", "italic").text("Fe/H");
t1.append("tspan").text("] = \u2212 1.12 dex");
leg.append("text").attr("x", 166.7).attr("y", 61.5).attr("font-size", tick_font)
  .text("Vivas et al. (2017)");
</script>
</body>
</html>
